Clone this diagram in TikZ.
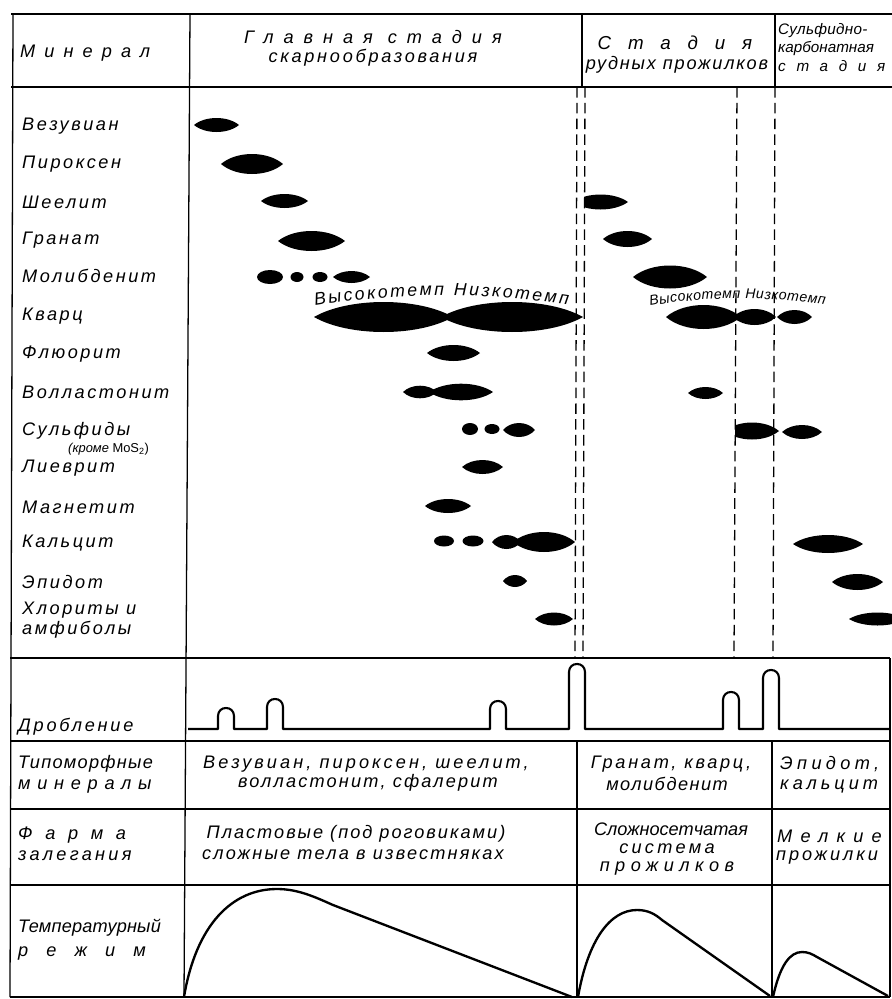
\documentclass[tikz,border=0pt]{standalone}
\usepackage{fontspec}
\setmainfont{Liberation Sans}
\usetikzlibrary{decorations.text}

\newcommand{\mfont}{\fontsize{15.5}{17}\selectfont\itshape}
\newcommand{\sfont}{\fontsize{13}{15}\selectfont\itshape}
\newcommand{\spaced}[2]{{\addfontfeatures{LetterSpace=#1}#2}}

\tikzstyle{mineral}=[anchor=west,inner sep=0pt,font=\mfont\addfontfeatures{LetterSpace=14}]
\tikzstyle{cell}=[inner sep=0pt,font=\mfont]
\tikzstyle{rowname}=[anchor=west,inner sep=0pt,font=\mfont]
\tikzstyle{rule}=[line width=1.1pt]
\tikzstyle{stageline}=[line width=1.1pt,dash pattern=on 9pt off 4.5pt]
\tikzstyle{lens}=[fill=black]
\tikzstyle{crush}=[line width=1.8pt,line join=round]
\tikzstyle{temp}=[line width=2pt,line join=round]

\begin{document}
\begin{tikzpicture}[x=0.03cm,y=-0.03cm]
	\clip (0,0) rectangle (892,999);
	%The table rules
	\foreach \yy in {14,87}
		\draw[rule] (11,\yy) -- (892,\yy);
	\foreach \yy in {658,741,809,885,997}
		\draw[rule] (10,\yy) -- (890,\yy);
	\foreach \xa/\ya/\xb/\yb in {13/14/10/997, 190/14/184/997, 582/14/582/87, 775/14/775/87,
								577/741/577/997, 772/741/772/997, 890/658/890/997}
		\draw[rule] (\xa,\ya) -- (\xb,\yb);
	%The stage borders
	\foreach \xa/\xb in {577/575, 585/583, 737/734, 775/773}
		\draw[stageline] (\xa,87) -- (\xb,658);

	%The header
	\node[rowname] (mineral) at (20,53) {\spaced{50}{Минерал}};
	\node[cell] (main1) at (373,37) {\spaced{55}{Главная стадия}};
	\node[cell] (main2) at (373,58) {\spaced{15}{скарнообразования}};
	\node[cell] (vein1) at (675,43) {\fontsize{16}{18}\selectfont\spaced{90}{Стадия}};
	\node[cell] (vein2) at (677,65) {\spaced{10}{рудных прожилков}};
	\node[rowname,font=\sfont] (sulf1) at (778,31) {\spaced{2}{Сульфидно-}};
	\node[rowname,font=\sfont] (sulf2) at (778,48) {\spaced{0}{карбонатная}};
	\node[rowname,font=\sfont] (sulf3) at (778,66) {\spaced{70}{стадия}};

	%The mineral names
	\foreach \yy/\name/\txt in {126/vez/Везувиан, 164/pir/Пироксен, 202/sch/Шеелит, 240/gra/Гранат,
								276/mol/Молибденит, 316/qtz/Кварц, 354/flu/Флюорит, 392/wol/Волластонит,
								431/sul/Сульфиды, 468/ilv/Лиеврит, 507/mag/Магнетит, 543/cal/Кальцит,
								582/epi/Эпидот, 610/chl/Хлориты и, 630/amf/амфиболы}
		\node[mineral] (\name) at (22,\yy) {\txt};
	\node[rowname,font=\fontsize{11}{12}\selectfont] (mos) at (68,449) {{\itshape(кроме} MoS\textsubscript{2})};

	%The lenses
	\foreach \xa/\xb/\yy/\hh in {194/239/125/7, 221/283/164/10, 261/308/201/7, 278/345/241/10,
								603/652/239/8, 333/370/277/6, 633/707/277/11.5, 314/453/317/15,
								441/583/317/15, 666/741/317/12, 733/776/317/8, 777/812/317/7,
								427/480/353/8, 403/437/392/6.3, 429/493/392/8.3, 688/723/393/6,
								503/535/430/7, 782/822/432/7, 462/503/467/7, 425/471/506/7,
								492/521/542/7, 513/575/542/10, 793/863/544/9, 503/527/581/6,
								832/883/582/8, 535/573/619/6.5, 849/906/619/6.5}
		\fill[lens] (\xa,\yy) .. controls ({\xa+0.25*(\xb-\xa)},{\yy-1.333*\hh}) and ({\xb-0.25*(\xb-\xa)},{\yy-1.333*\hh}) .. (\xb,\yy)
			.. controls ({\xb-0.25*(\xb-\xa)},{\yy+1.333*\hh}) and ({\xa+0.25*(\xb-\xa)},{\yy+1.333*\hh}) .. cycle;
	%Lenses cut by the stage border
	\foreach \xa/\xb/\yy/\hh/\xc in {573/628/202/7.5/584, 725/779/431/8.5/735}
	{
		\begin{scope}
			\clip (\xc,\yy-20) rectangle (\xb+2,\yy+20);
			\fill[lens] (\xa,\yy) .. controls ({\xa+0.25*(\xb-\xa)},{\yy-1.333*\hh}) and ({\xb-0.25*(\xb-\xa)},{\yy-1.333*\hh}) .. (\xb,\yy)
				.. controls ({\xb-0.25*(\xb-\xa)},{\yy+1.333*\hh}) and ({\xa+0.25*(\xb-\xa)},{\yy+1.333*\hh}) .. cycle;
		\end{scope}
	}
	%The dots
	\foreach \xc/\yy/\rx/\ry in {270/277/13/7, 297/277/6.5/5, 320/277/7.5/5, 470/429/8/6,
								492/429/7.5/5, 444/541/10/5.5, 473/541/10.5/5.5}
		\fill[lens] (\xc,\yy) ellipse[x radius=\rx, y radius=\ry];
	%The curved labels over the quartz
	\path[decorate,decoration={text along path,text align=fit to path,
		text={|\fontsize{15}{17}\selectfont\itshape|Высокотемп Низкотемп}}]
		(315,306) .. controls (400,292) and (480,292) .. (568,305);
	\path[decorate,decoration={text along path,text align=fit to path,
		text={|\fontsize{12}{14}\selectfont\itshape|Высокотемп Низкотемп}}]
		(650,306) .. controls (700,297) and (770,296) .. (825,305);

	%The crushing row
	\node[rowname] (crush) at (18,727) {\spaced{15}{Дробление}};
	\draw[crush] (188,729) \foreach \xa/\tp in {218/708, 267/699, 490/701, 569/664, 723/692, 763/670}
		{ -- (\xa,729) -- (\xa,\tp+8) .. controls (\xa,\tp-2.7) and (\xa+16,\tp-2.7) .. (\xa+16,\tp+8) -- (\xa+16,729) }
		-- (890,729);

	%The typomorphic minerals
	\node[rowname] (typo1) at (18,764) {\spaced{7}{Типоморфные}};
	\node[rowname] (typo2) at (18,786) {\spaced{37}{минералы}};
	\node[cell] (typoa1) at (366,764) {\spaced{17}{Везувиан, пироксен, шеелит,}};
	\node[cell] (typoa2) at (368,783) {\spaced{12}{волластонит, сфалерит}};
	\node[cell] (typob1) at (671,764) {\spaced{15}{Гранат, кварц,}};
	\node[cell] (typob2) at (667,784) {\spaced{8}{молибденит}};
	\node[rowname] (typoc1) at (780,764) {\spaced{24}{Эпидот,}};
	\node[rowname] (typoc2) at (780,786) {\spaced{22}{кальцит}};

	%The form of the bodies
	\node[rowname] (form1) at (18,835) {\spaced{70}{Фарма}};
	\node[rowname] (form2) at (18,856) {\spaced{18}{залегания}};
	\node[cell] (forma1) at (356,834) {\spaced{11}{Пластовые (под роговиками)}};
	\node[cell] (forma2) at (353,855) {\spaced{12}{сложные тела в известняках}};
	\node[cell] (formb1) at (671,829) {\spaced{0}{Сложносетчатая}};
	\node[cell] (formb2) at (667,849) {\spaced{18}{система}};
	\node[cell] (formb3) at (667,868) {\spaced{30}{прожилков}};
	\node[rowname] (formc1) at (777,836) {\spaced{45}{Мелкие}};
	\node[rowname] (formc2) at (776,857) {\spaced{16}{прожилки}};

	%The temperature regime
	\node[rowname] (temp1) at (18,928) {\spaced{1}{Температурный}};
	\node[rowname] (temp2) at (18,953) {\spaced{100}{режим}};
	\draw[temp] (184,997) .. controls (196,925) and (232,889) .. (277,889)
		.. controls (298,889) and (315,897) .. (333,905) -- (572,997);
	\draw[temp] (578,997) .. controls (588,940) and (610,910) .. (637,910)
		.. controls (648,910) and (655,914) .. (662,920) -- (770,996);
	\draw[temp] (773,997) .. controls (780,965) and (790,952) .. (802,952)
		.. controls (808,952) and (812,954) .. (817,957) -- (888,996);
\end{tikzpicture}
\end{document}
